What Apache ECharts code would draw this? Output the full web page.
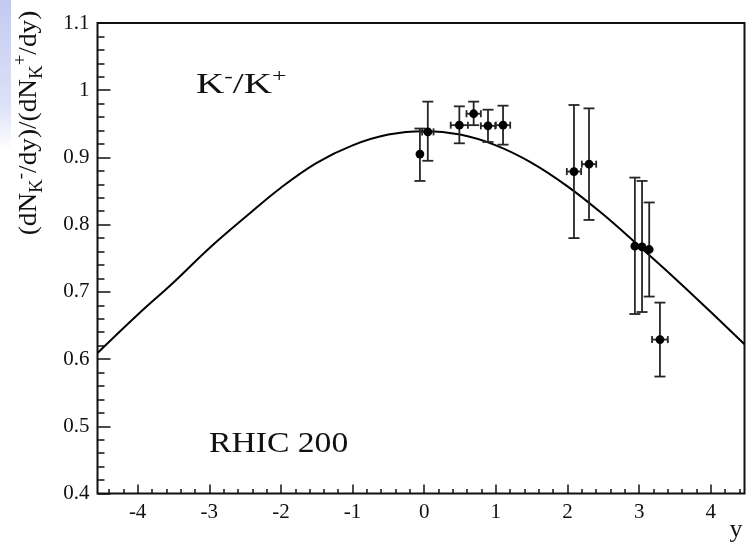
<!DOCTYPE html>
<html><head><meta charset="utf-8">
<script src="https://cdn.jsdelivr.net/npm/echarts@6/dist/echarts.min.js"></script>
<style>html,body{margin:0;padding:0;background:#fff}#c{width:748px;height:545px}</style>
</head><body><div id="c"></div>
<script>
// Data points (rapidity y, ratio K-/K+)
const pointX    = [-0.06, 0.05, 0.49, 0.69, 0.89, 1.10, 2.09, 2.30, 2.94, 3.04, 3.14, 3.29];
const pointY    = [0.905, 0.938, 0.948, 0.965, 0.947, 0.948, 0.879, 0.890, 0.768, 0.767, 0.763, 0.629];
const errXHalf  = [0, 0.08, 0.12, 0.10, 0.10, 0.10, 0.10, 0.10, 0, 0, 0, 0.11];
const errYLow   = [0.040, 0.043, 0.027, 0.017, 0.024, 0.029, 0.099, 0.083, 0.101, 0.097, 0.070, 0.055];
const errYHigh  = [0.038, 0.045, 0.028, 0.018, 0.024, 0.029, 0.099, 0.083, 0.102, 0.098, 0.070, 0.055];
// Model curve
const curveX = [-4.56, -4, -3.5, -3, -2.5, -2, -1.5, -1, -0.5, 0, 0.5, 1, 1.5, 2, 2.5, 3, 3.5, 4, 4.47];
const curveY = [0.609, 0.666, 0.714, 0.765, 0.811, 0.855, 0.892, 0.918, 0.934, 0.939, 0.934, 0.918, 0.892, 0.857, 0.815, 0.768, 0.720, 0.670, 0.622];
// Axis ranges / ticks
const xMin = -4.56, xMax = 4.47;
const xMinorMin = -4.4, xMinorMax = 4.4, xMinorStep = 0.2;
const yMin = 0.4, yMax = 1.1, yStep = 0.1;

const SERIF = 'Liberation Serif, Times New Roman, serif';
const chart = echarts.init(document.getElementById('c'));

const errData = pointX.map((x, i) => [x, pointY[i], errXHalf[i], errYLow[i], errYHigh[i]]);
const curveData = curveX.map((x, i) => [x, curveY[i]]);

// layout of main plot frame
const G = {left: 97.5, right: 3.5, top: 23, bottom: 51.5};
const plotW = 748 - G.left - G.right;
const pxPerUnit = plotW / (xMax - xMin);
const minorLeft = G.left + (xMinorMin - xMin) * pxPerUnit;
const minorW = (xMinorMax - xMinorMin) * pxPerUnit;

function renderErr(params, api) {
  const x = api.value(0), y = api.value(1), xe = api.value(2), yl = api.value(3), yh = api.value(4);
  const c = api.coord([x, y]);
  const t = api.coord([x, y + yh]);
  const b = api.coord([x, y - yl]);
  const st = {stroke: '#262626', lineWidth: 1.8};
  const ch = [
    {type: 'line', shape: {x1: c[0], y1: t[1], x2: c[0], y2: b[1]}, style: st},
    {type: 'line', shape: {x1: c[0] - 5.5, y1: t[1], x2: c[0] + 5.5, y2: t[1]}, style: st},
    {type: 'line', shape: {x1: c[0] - 5.5, y1: b[1], x2: c[0] + 5.5, y2: b[1]}, style: st}
  ];
  if (xe > 0) {
    const l = api.coord([x - xe, y]), r = api.coord([x + xe, y]);
    ch.push({type: 'line', shape: {x1: l[0], y1: c[1], x2: r[0], y2: c[1]}, style: st});
    ch.push({type: 'line', shape: {x1: l[0], y1: c[1] - 3.5, x2: l[0], y2: c[1] + 3.5}, style: st});
    ch.push({type: 'line', shape: {x1: r[0], y1: c[1] - 3.5, x2: r[0], y2: c[1] + 3.5}, style: st});
  }
  ch.push({type: 'circle', shape: {cx: c[0], cy: c[1], r: 4.4}, style: {fill: '#000'}});
  return {type: 'group', children: ch};
}

chart.setOption({
  animation: false,
  backgroundColor: '#fff',
  grid: [
    Object.assign({show: true, borderColor: '#111', borderWidth: 2, backgroundColor: 'transparent'}, G),
    {left: minorLeft, width: minorW, top: G.top, bottom: G.bottom, show: false}
  ],
  xAxis: [{
    type: 'value', gridIndex: 0, min: xMin, max: xMax, splitNumber: 9,
    axisLine: {show: false, onZero: false}, splitLine: {show: false},
    axisTick: {show: true, inside: true, length: 9, lineStyle: {color: '#111', width: 1.5}},
    axisLabel: {show: true, showMinLabel: false, showMaxLabel: false, margin: 8,
      fontFamily: SERIF, fontSize: 21, color: '#111'}
  }, {
    type: 'value', gridIndex: 1, min: xMinorMin, max: xMinorMax, interval: xMinorStep,
    axisLine: {show: false, onZero: false}, splitLine: {show: false}, axisLabel: {show: false},
    axisTick: {show: true, inside: true, length: 4.5, lineStyle: {color: '#111', width: 1.5}}
  }],
  yAxis: [{
    type: 'value', gridIndex: 0, min: yMin, max: yMax, interval: yStep,
    axisLine: {show: false, onZero: false}, splitLine: {show: false},
    axisTick: {show: true, inside: true, length: 13, lineStyle: {color: '#111', width: 1.5}},
    minorTick: {show: true, splitNumber: 5, length: 7, lineStyle: {color: '#111', width: 1.5}},
    axisLabel: {margin: 8, fontFamily: SERIF, fontSize: 21, color: '#111'}
  }, {
    type: 'value', gridIndex: 1, show: false, min: yMin, max: yMax,
    axisLine: {onZero: false}
  }],
  series: [{
    type: 'line', xAxisIndex: 0, yAxisIndex: 0, data: curveData, smooth: 0.4,
    showSymbol: false, lineStyle: {color: '#000', width: 2}, z: 2
  }, {
    type: 'custom', xAxisIndex: 0, yAxisIndex: 0, data: errData, renderItem: renderErr, z: 3
  }],
  graphic: [
    {type: 'rect', left: 0, top: 0, shape: {width: 11, height: 150}, silent: true, z: -1,
      style: {fill: new echarts.graphic.LinearGradient(0, 0, 0, 1, [
        {offset: 0, color: '#c3caf0'}, {offset: 0.7, color: '#dde1f7'}, {offset: 1, color: '#ffffff'}])}},
    {type: 'text', x: 29, y: 123, rotation: Math.PI / 2, scaleX: 1.05, silent: true,
      style: {
        text: '{n|(dN}{s|K}{p|-}{n|/dy)/(dN}{s|K}{p|+}{n|/dy)}',
        align: 'center', verticalAlign: 'middle',
        rich: {
          n: {fontFamily: SERIF, fontSize: 26, lineHeight: 34, verticalAlign: 'middle', fill: '#111'},
          s: {fontFamily: SERIF, fontSize: 18, lineHeight: 18, verticalAlign: 'bottom', fill: '#111'},
          p: {fontFamily: SERIF, fontSize: 18, lineHeight: 18, verticalAlign: 'top', fill: '#111'}
        }
      }},
    {type: 'text', x: 196, y: 85, scaleX: 1.35, silent: true,
      style: {
        text: '{n|K}{p|-}{n|/K}{p|+}', verticalAlign: 'middle',
        rich: {
          n: {fontFamily: SERIF, fontSize: 29, lineHeight: 34, verticalAlign: 'middle', fill: '#111'},
          p: {fontFamily: SERIF, fontSize: 19, lineHeight: 19, verticalAlign: 'top', fill: '#111'}
        }
      }},
    {type: 'text', x: 209, y: 444, scaleX: 1.16, silent: true,
      style: {text: 'RHIC 200', fontFamily: SERIF, fontSize: 29, fill: '#111', verticalAlign: 'middle'}},
    {type: 'text', x: 736, y: 530, silent: true,
      style: {text: 'y', fontFamily: SERIF, fontSize: 26, fill: '#111', align: 'center', verticalAlign: 'middle'}}
  ]
});
</script>
</body></html>
